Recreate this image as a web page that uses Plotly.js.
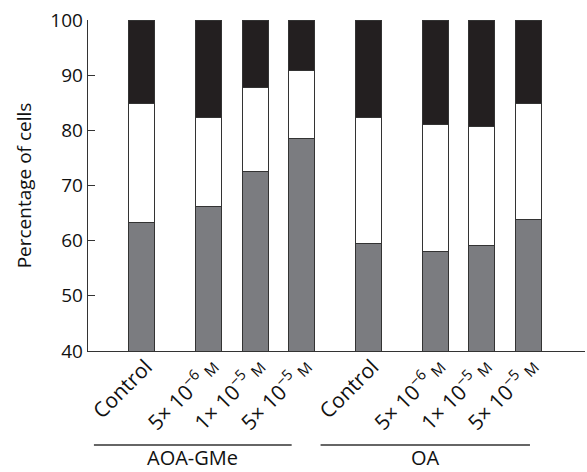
<!DOCTYPE html>
<html>
<head>
<meta charset="utf-8">
<script src="https://cdn.plot.ly/plotly-3.0.1.min.js"></script>
<style>html,body{margin:0;padding:0;background:#fff;}#chart{width:587px;height:472px;}</style>
</head>
<body>
<div id="chart"></div>
<script>
// ---- data ----
const groups = ['AOA-GMe', 'OA'];
const doseLabels = [
  'Control',
  '5× 10<sup>−6</sup> <span style="font-size:15px">M</span>',
  '1× 10<sup>−5</sup> <span style="font-size:15px">M</span>',
  '5× 10<sup>−5</sup> <span style="font-size:15px">M</span>'
];
const greyValues  = [63.3, 66.2, 72.6, 78.6, 59.4, 58.0, 59.1, 63.9];
const whiteValues = [21.6, 16.1, 15.2, 12.2, 22.9, 23.0, 21.6, 21.0];
const blackValues = [15.1, 17.7, 12.2,  9.2, 17.7, 19.0, 19.3, 15.1];

// ---- layout of positions (control set apart from doses, groups set apart) ----
const gap = 1.43;
const xPos = [];
const tickText = [];
let p = 0;
const groupSpans = [];
groups.forEach((g, gi) => {
  const start = p;
  doseLabels.forEach((d, di) => {
    xPos.push(p);
    tickText.push(d);
    p += (di === 0) ? gap : 1;
  });
  groupSpans.push([start, p - 1]);
  p += gap - 1;
});

const lineCol = '#333';
const barW = 0.557;
function trace(vals, color) {
  return {
    type: 'bar', x: xPos, y: vals, width: barW,
    marker: {color: color, line: {color: lineCol, width: 1}},
    hoverinfo: 'skip', showlegend: false
  };
}
const data = [
  trace(greyValues, '#7b7c80'),
  trace(whiteValues, '#ffffff'),
  trace(blackValues, '#231f20')
];

const shapes = [];
const annotations = [];
groupSpans.forEach((s, i) => {
  const x0 = s[0] - 1.03, x1 = s[1] + (i === 0 ? -0.22 : 0.03);
  shapes.push({type: 'line', xref: 'x', yref: 'paper', x0: x0, x1: x1, y0: -0.284, y1: -0.284,
    line: {color: lineCol, width: 1.3}});
  annotations.push({xref: 'x', yref: 'paper', x: (x0 + x1) / 2, y: -0.321, text: groups[i],
    showarrow: false, xanchor: 'center', yanchor: 'middle', borderpad: 0,
    font: {size: 20, color: '#111'}});
});

const layout = {
  width: 587, height: 472,
  margin: {l: 88, r: 2, t: 20, b: 121},
  barmode: 'stack',
  paper_bgcolor: '#fff', plot_bgcolor: '#fff',
  font: {family: '"Open Sans", "Noto Sans", sans-serif', color: '#111', size: 19},
  xaxis: {
    range: [-1.157, xPos[xPos.length - 1] + 1.21],
    tickvals: xPos, ticktext: tickText, tickangle: -45,
    showline: true, linecolor: lineCol, linewidth: 1.3,
    ticks: '', showgrid: false, zeroline: false,
    tickfont: {size: 21},
    ticklabelstandoff: -6, ticklabelshift: 4
  },
  yaxis: {
    range: [40, 100], dtick: 10,
    showline: true, linecolor: lineCol, linewidth: 1.3,
    ticks: 'inside', ticklen: 7, tickcolor: lineCol, tickwidth: 1.3,
    showgrid: false, zeroline: false,
    tickfont: {size: 19},
    title: {text: 'Percentage of cells', font: {size: 19}, standoff: 13}
  },
  shapes: shapes,
  annotations: annotations
};
Plotly.newPlot('chart', data, layout, {staticPlot: true, displayModeBar: false});
</script>
</body>
</html>
